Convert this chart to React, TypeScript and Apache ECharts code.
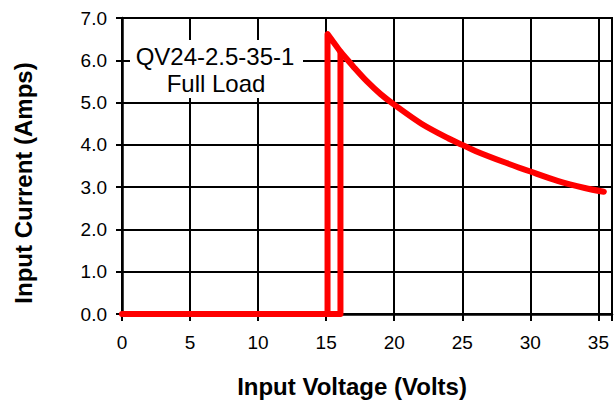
import React, { useEffect, useRef } from "react";
import * as echarts from "echarts";

const xTicks = [0, 5, 10, 15, 20, 25, 30, 35];
const yTicks = [0, 1, 2, 3, 4, 5, 6, 7];
// Turn-on / turn-off hysteresis loop
const loopPoints: [number, number][] = [
  [0, 0],
  [16.05, 0],
  [16.05, 6.2],
  [15.1, 6.62],
  [15.1, 0],
];
// Full-load input current vs input voltage
const curvePoints: [number, number][] = [
  [16.05, 6.2],
  [17, 5.85],
  [18, 5.5],
  [19, 5.2],
  [20, 4.95],
  [22, 4.5],
  [24, 4.15],
  [25, 4.0],
  [26, 3.85],
  [28, 3.6],
  [30, 3.37],
  [32, 3.15],
  [34, 2.98],
  [35.4, 2.89],
];
const annotation = ["QV24-2.5-35-1", "Full Load"];
const xTitle = "Input Voltage (Volts)";
const yTitle = "Input Current (Amps)";

export default function App() {
  const ref = useRef<HTMLDivElement>(null);
  useEffect(() => {
    if (!ref.current) return;
    const chart = echarts.init(ref.current, null, { renderer: "svg" });
    const font = "'Liberation Sans', Arial, sans-serif";
    const lineStyle = { color: "#ff0000", width: 6, cap: "round", join: "round" } as any;
    chart.setOption({
      animation: false,
      backgroundColor: "#ffffff",
      grid: {
        left: 122,
        right: 1,
        top: 18,
        bottom: 89,
        show: true,
        borderColor: "#000",
        borderWidth: 2,
        containLabel: false,
      },
      xAxis: {
        type: "value",
        min: 0,
        max: 36,
        interval: 5,
        axisLine: { show: true, lineStyle: { color: "#000", width: 2.5 } },
        axisTick: { show: true, length: 7, lineStyle: { color: "#000", width: 2 } },
        splitLine: { show: true, lineStyle: { color: "#000", width: 2 } },
        axisLabel: {
          margin: 19,
          fontSize: 19,
          color: "#000",
          fontFamily: font,
          formatter: (v: number) => (xTicks.includes(v) ? String(v) : ""),
        },
      },
      yAxis: {
        type: "value",
        min: 0,
        max: 7,
        interval: 1,
        axisLine: { show: true, lineStyle: { color: "#000", width: 2.5 } },
        axisTick: { show: true, length: 6, lineStyle: { color: "#000", width: 2 } },
        splitLine: { show: true, lineStyle: { color: "#000", width: 2 } },
        axisLabel: {
          margin: 15,
          fontSize: 19,
          color: "#000",
          fontFamily: font,
          formatter: (v: number) => (yTicks.includes(v) ? v.toFixed(1) : ""),
        },
      },
      series: [
        {
          type: "line",
          data: loopPoints,
          showSymbol: false,
          symbol: "none",
          lineStyle,
          z: 5,
        },
        {
          type: "line",
          data: curvePoints,
          showSymbol: false,
          symbol: "none",
          smooth: 0.3,
          lineStyle,
          z: 5,
        },
      ],
      graphic: [
        {
          type: "rect",
          z: 100,
          shape: { x: 130, y: 40, width: 173, height: 58 },
          style: { fill: "#ffffff" },
        },
        {
          type: "text",
          z: 101,
          x: 215,
          y: 56,
          style: {
            text: annotation[0],
            font: `24px ${font}`,
            fill: "#000",
            textAlign: "center",
            textVerticalAlign: "middle",
          },
        },
        {
          type: "text",
          z: 101,
          x: 216,
          y: 83,
          style: {
            text: annotation[1],
            font: `24px ${font}`,
            fill: "#000",
            textAlign: "center",
            textVerticalAlign: "middle",
          },
        },
        {
          type: "text",
          z: 101,
          x: 352,
          y: 386,
          style: {
            text: xTitle,
            font: `bold 24px ${font}`,
            fill: "#000",
            textAlign: "center",
            textVerticalAlign: "middle",
          },
        },
        {
          type: "text",
          z: 101,
          x: 23,
          y: 183,
          rotation: Math.PI / 2,
          style: {
            text: yTitle,
            font: `bold 24px ${font}`,
            fill: "#000",
            textAlign: "center",
            textVerticalAlign: "middle",
          },
        },
      ],
    });
    return () => chart.dispose();
  }, []);
  return (
    <div
      ref={ref}
      style={{ position: "absolute", left: 0, top: 0, width: 615, height: 403 }}
    />
  );
}
